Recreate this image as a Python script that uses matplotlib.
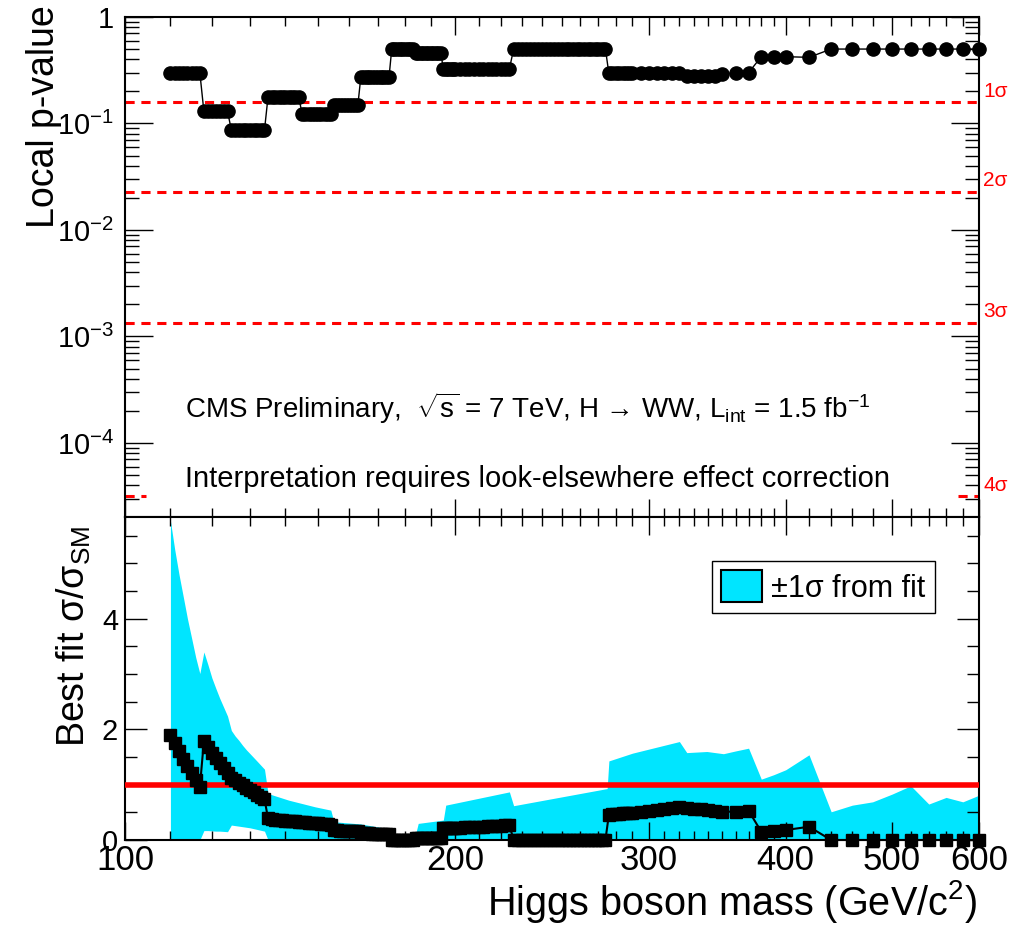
import numpy as np
import matplotlib
matplotlib.use('Agg')
import matplotlib.pyplot as plt
from matplotlib.patches import Patch
from matplotlib.ticker import FixedLocator, NullFormatter, LogLocator, MultipleLocator, FixedFormatter

plt.rcParams['font.family'] = ['Liberation Sans', 'DejaVu Sans']
plt.rcParams['mathtext.fontset'] = 'custom'
plt.rcParams['mathtext.rm'] = 'Liberation Sans'
plt.rcParams['mathtext.it'] = 'Liberation Sans:italic'
plt.rcParams['mathtext.bf'] = 'Liberation Sans:bold'
plt.rcParams['mathtext.sf'] = 'Liberation Sans'
plt.rcParams['mathtext.default'] = 'regular'

# ---------------- data ----------------
mass_fine = list(range(110, 200))            # 1 GeV scan
mass_mid = list(range(200, 291, 2))          # 2 GeV scan
mass_coarse = [295, 300, 305, 310, 315, 320, 325, 330, 335, 340, 345, 350,
               360, 370, 380, 390, 400,
               420, 440, 460, 480, 500, 520, 540, 560, 580, 600]
mass = mass_fine + mass_mid + mass_coarse

pvalue = ([0.30] * 8 + [0.13] * 7 + [0.087] * 10 + [0.178] * 10 + [0.122] * 10
          + [0.149] * 9 + [0.271] * 11 + [0.50] * 9 + [0.46] * 11 + [0.325] * 5
          + [0.325] * 13 + [0.50] * 25 + [0.295] * 8
          + [0.295, 0.295, 0.295, 0.295, 0.295, 0.295, 0.28, 0.28, 0.28, 0.28, 0.28, 0.29,
             0.30, 0.30, 0.424, 0.424, 0.424,
             0.418, 0.50, 0.50, 0.50, 0.50, 0.50, 0.50, 0.50, 0.50, 0.50])

mu_fit = ([1.89, 1.75, 1.61, 1.47, 1.34, 1.21, 1.08, 0.95,
           1.79, 1.68, 1.58, 1.48, 1.39, 1.30, 1.21,
           1.13, 1.08, 1.03, 0.99, 0.94, 0.90, 0.86, 0.82, 0.78, 0.74,
           0.39, 0.38, 0.37, 0.36, 0.355, 0.35, 0.345, 0.34, 0.335, 0.33,
           0.325, 0.32, 0.315, 0.31, 0.305, 0.30, 0.295, 0.29, 0.285, 0.28,
           0.175, 0.172, 0.17, 0.168, 0.165, 0.162, 0.16, 0.158, 0.155,
           0.125, 0.123, 0.121, 0.119, 0.117, 0.115, 0.113, 0.111, 0.109, 0.107, 0.105,
           0, 0, 0, 0, 0, 0, 0, 0, 0,
           0.03, 0.03, 0.03, 0.03, 0.03, 0.03, 0.03, 0.03, 0.03, 0.03, 0.03,
           0.21, 0.212, 0.214, 0.216, 0.218]
          + [0.22, 0.224, 0.228, 0.232, 0.236, 0.24, 0.244, 0.248, 0.252, 0.256, 0.26, 0.264, 0.268]
          + [0] * 25
          + [0.46, 0.465, 0.47, 0.475, 0.48, 0.485, 0.49, 0.495]
          + [0.505, 0.52, 0.54, 0.56, 0.58, 0.60, 0.575, 0.565, 0.555, 0.545, 0.53, 0.515,
             0.51, 0.53, 0.15, 0.17, 0.18,
             0.24, 0, 0, 0, 0, 0, 0, 0, 0, 0])

band_mass = [110, 111, 112, 113, 114, 115, 116, 117, 118, 119, 120, 121, 122, 123, 124,
             125, 126, 127, 128, 129, 130, 132, 134, 135, 141, 149, 154, 155, 164, 174,
             175, 184, 185, 195, 196, 224, 226, 275, 276, 290, 320, 325, 339, 351, 360,
             370, 380, 390, 400, 420, 440, 460, 480, 500, 520, 540, 560, 580, 600]
band_hi = [5.77, 5.25, 4.80, 4.40, 4.00, 3.65, 3.30, 3.01, 3.40, 3.17, 2.93, 2.74, 2.56, 2.40, 2.24,
           1.98, 1.88, 1.80, 1.71, 1.63, 1.56, 1.42, 1.28, 0.84, 0.72, 0.60, 0.54, 0.33, 0.29, 0.20,
           0.11, 0.11, 0.30, 0.36, 0.63, 0.87, 0.62, 0.93, 1.43, 1.57, 1.78, 1.58, 1.60, 1.56, 1.61,
           1.66, 1.10, 1.18, 1.27, 1.54, 0.51, 0.63, 0.69, 0.83, 0.98, 0.65, 0.77, 0.69, 0.81]
band_lo = [0, 0, 0, 0, 0, 0, 0, 0, 0.17, 0.17, 0.165, 0.16, 0.16, 0.155, 0.15,
           0.27, 0.26, 0.25, 0.24, 0.23, 0.22, 0.19, 0.16, 0, 0, 0, 0, 0, 0, 0,
           0, 0, 0, 0, 0, 0, 0, 0, 0, 0, 0, 0, 0, 0, 0,
           0, 0, 0, 0, 0, 0, 0, 0, 0, 0, 0, 0, 0, 0]

sigma_pvalues = [0.1587, 0.02275, 0.00135, 3.167e-5]
sigma_labels = ['1σ', '2σ', '3σ', '4σ']

x_major = [100, 200, 300, 400, 500, 600]
x_ticklabels = ['100', '200', '300', '400', '500', '600']
x_minor = list(range(110, 200, 10)) + list(range(210, 400, 10)) + list(range(420, 600, 20))
p_ticks = [1e-4, 1e-3, 1e-2, 1e-1, 1]
p_ticklabels = ['$10^{-4}$', '$10^{-3}$', '$10^{-2}$', '$10^{-1}$', '1']
mu_ticks = [0, 2, 4]

CYAN = '#00E5FF'
W, H = 1023, 925

# ---------------- figure ----------------
fig = plt.figure(figsize=(W / 100, H / 100), dpi=100)
ax1 = fig.add_axes([125 / W, 1 - 517 / H, 854 / W, 500 / H])
ax2 = fig.add_axes([125 / W, 1 - 840 / H, 854 / W, 323 / H], sharex=ax1)

for ax in (ax1, ax2):
    ax.set_xscale('log')
    ax.set_xlim(100, 600)
    ax.xaxis.set_major_locator(FixedLocator(x_major))
    ax.xaxis.set_major_formatter(FixedFormatter(x_ticklabels))
    ax.xaxis.set_minor_locator(FixedLocator(x_minor))
    ax.xaxis.set_minor_formatter(NullFormatter())
    for s in ax.spines.values():
        s.set_linewidth(1.5)
    ax.tick_params(axis='x', which='major', direction='in', length=13, width=1,
                   top=True, bottom=True, labelsize=25, pad=3)
    ax.tick_params(axis='x', which='minor', direction='in', length=6.5, width=1,
                   top=True, bottom=True)

# ---- top panel ----
ax1.set_yscale('log')
ax1.set_ylim(10 ** -4.695, 1)
ax1.yaxis.set_major_locator(FixedLocator(p_ticks))
ax1.yaxis.set_major_formatter(FixedFormatter(p_ticklabels))
ax1.yaxis.set_minor_locator(LogLocator(base=10, subs=np.arange(2, 10)))
ax1.yaxis.set_minor_formatter(NullFormatter())
ax1.tick_params(axis='y', which='major', direction='in', length=20, width=1,
                left=True, right=True, labelsize=21, pad=8)
ax1.tick_params(axis='y', which='minor', direction='in', length=10, width=1,
                left=True, right=True)
ax1.tick_params(axis='x', which='both', labelbottom=False)

for i, (pv, lab) in enumerate(zip(sigma_pvalues, sigma_labels)):
    if i < 3:
        ax1.axhline(pv, color='red', lw=2.2, dashes=(3, 2.2), zorder=2)
    else:
        ax1.axhline(pv, xmin=0, xmax=0.025, color='red', lw=2.2, dashes=(3, 2.2), zorder=2)
        ax1.axhline(pv, xmin=0.975, xmax=1, color='red', lw=2.2, dashes=(3, 2.2), zorder=2)
    ax1.annotate(lab, xy=(1, pv), xycoords=ax1.get_yaxis_transform(),
                 xytext=(3, 8), textcoords='offset points', color='red',
                 fontsize=15, ha='left', va='center', annotation_clip=False)

ax1.plot(mass, pvalue, color='black', lw=1, marker='o', ms=9.5, mfc='black',
         mec='black', clip_on=False, zorder=5)

# ---- bottom panel ----
ax2.set_ylim(0, 5.84)
ax2.yaxis.set_major_locator(FixedLocator(mu_ticks))
ax2.yaxis.set_minor_locator(MultipleLocator(0.5))
ax2.tick_params(axis='y', which='major', direction='in', length=16, width=1,
                left=True, right=True, labelsize=21, pad=5)
ax2.tick_params(axis='y', which='minor', direction='in', length=8.6, width=1,
                left=True, right=True)

ax2.fill_between(band_mass, band_lo, band_hi, color=CYAN, lw=0, zorder=1)
ax2.axhline(1.0, color='red', lw=4, zorder=3)
ax2.plot(mass, mu_fit, color='black', lw=1.5, marker='s', ms=8, mfc='black',
         mec='black', clip_on=False, zorder=5)

leg = ax2.legend(handles=[Patch(facecolor=CYAN, edgecolor='black', linewidth=1.5)],
                 labels=['±1σ from fit'], loc='upper left',
                 bbox_to_anchor=((712 - 125) / 854, (840 - 561) / 323),
                 borderaxespad=0, fontsize=22, frameon=True, fancybox=False,
                 framealpha=1, edgecolor='black', handlelength=1.34,
                 handleheight=1.24, borderpad=0.3, handletextpad=0.3)
leg.get_frame().set_linewidth(1)

# ---- texts ----
fig.text(44 / W, 1 - 5 / H, 'Local p-value', rotation=90, ha='center', va='top', fontsize=27)
fig.text(74 / W, 1 - 526 / H, 'Best fit σ/σ$_{SM}$', rotation=90, ha='center', va='top',
         fontsize=27)
fig.text(977 / W, 1 - 915 / H, 'Higgs boson mass (GeV/c$^{2}$)', ha='right',
         va='baseline', fontsize=28.5)
fig.text(185 / W, 1 - 418 / H,
         r'CMS Preliminary,  $\sqrt{s}$ = 7 TeV, H → WW, L$_{int}$ = 1.5 fb$^{-1}$',
         ha='left', va='baseline', fontsize=20)
fig.text(185 / W, 1 - 487 / H, 'Interpretation requires look-elsewhere effect correction',
         ha='left', va='baseline', fontsize=21)

fig.savefig('out.png', dpi=100)
